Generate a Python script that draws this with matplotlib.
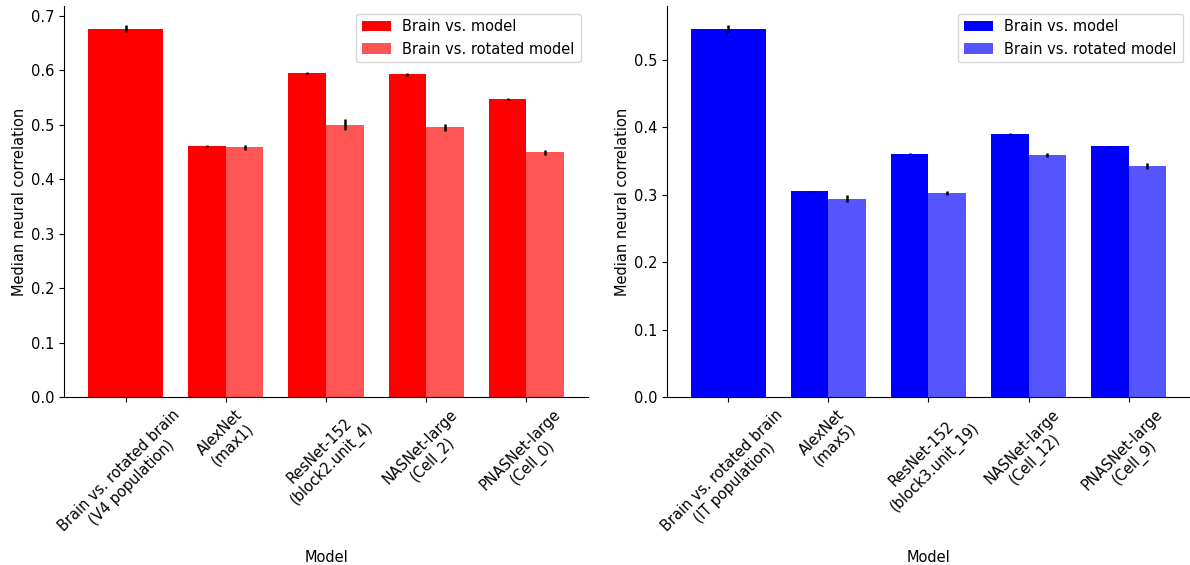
"""Median neural correlation of brain vs. model, V4 and IT populations."""

import matplotlib
import numpy as np

matplotlib.use("Agg")
import matplotlib.pyplot as plt

plt.rcParams["font.size"] = 10.5

V4_LABELS = [
    "Brain vs. rotated brain\n(V4 population)",
    "AlexNet\n(max1)",
    "ResNet-152\n(block2.unit_4)",
    "NASNet-large\n(Cell_2)",
    "PNASNet-large\n(Cell_0)",
]
IT_LABELS = [
    "Brain vs. rotated brain\n(IT population)",
    "AlexNet\n(max5)",
    "ResNet-152\n(block3.unit_19)",
    "NASNet-large\n(Cell_12)",
    "PNASNet-large\n(Cell_9)",
]

# first entry is brain vs. rotated brain, the rest are models
V4_MODEL = [0.676, 0.460, 0.594, 0.592, 0.547]
V4_MODEL_ERR = [0.007, 0.002, 0.002, 0.002, 0.002]
V4_ROTATED = [0.458, 0.500, 0.495, 0.449]
V4_ROTATED_ERR = [0.004, 0.010, 0.007, 0.005]

IT_MODEL = [0.546, 0.305, 0.361, 0.390, 0.372]
IT_MODEL_ERR = [0.006, 0.001, 0.001, 0.001, 0.001]
IT_ROTATED = [0.294, 0.303, 0.359, 0.343]
IT_ROTATED_ERR = [0.005, 0.003, 0.003, 0.004]

WIDTH = 0.375
ERR_KW = dict(ecolor="black", elinewidth=1.8, capsize=0)


def _panel(ax, labels, model, model_err, rotated, rotated_err, color, light):
    x = np.arange(len(labels))
    ax.bar(x[0], model[0], width=2 * WIDTH, color=color,
           yerr=model_err[0], error_kw=ERR_KW)
    ax.bar(x[1:] - WIDTH / 2, model[1:], width=WIDTH, color=color,
           yerr=model_err[1:], error_kw=ERR_KW, label="Brain vs. model")
    ax.bar(x[1:] + WIDTH / 2, rotated, width=WIDTH, color=light,
           yerr=rotated_err, error_kw=ERR_KW, label="Brain vs. rotated model")
    ax.set_xticks(x)
    ax.set_xticklabels(labels, rotation=45, ha="center", ma="center")
    ax.set_xlabel("Model", va="center")
    ax.xaxis.set_label_coords(0.5, -0.41)
    ax.set_ylabel("Median neural correlation", labelpad=3)
    ax.spines["top"].set_visible(False)
    ax.spines["right"].set_visible(False)
    ax.legend(loc="upper right")


fig = plt.figure(figsize=(11.9, 5.65), dpi=100)
ax_v4 = fig.add_axes([0.054, 0.297, 0.44, 0.692])
ax_it = fig.add_axes([0.5605, 0.297, 0.4395, 0.692])
_panel(ax_v4, V4_LABELS, V4_MODEL, V4_MODEL_ERR, V4_ROTATED, V4_ROTATED_ERR,
       "#ff0000", "#ff5555")
_panel(ax_it, IT_LABELS, IT_MODEL, IT_MODEL_ERR, IT_ROTATED, IT_ROTATED_ERR,
       "#0000ff", "#5555ff")
fig.savefig("out.png", dpi=100)
plt.close(fig)
